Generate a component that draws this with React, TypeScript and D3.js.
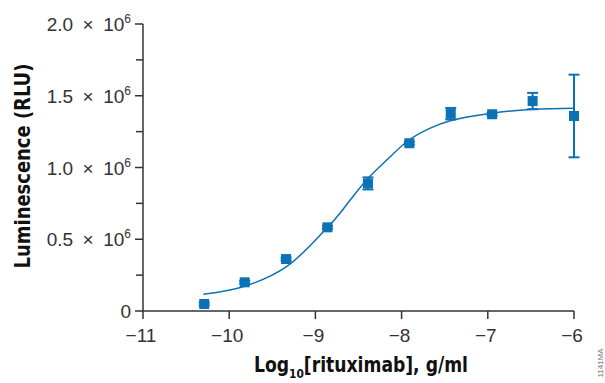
import React from "react";
import * as d3 from "d3";

const logConc = [-10.29, -9.82, -9.34, -8.86, -8.39, -7.91, -7.43, -6.95, -6.48, -6.0];
const meanRLU = [0.049e6, 0.2e6, 0.362e6, 0.583e6, 0.889e6, 1.169e6, 1.375e6, 1.371e6, 1.463e6, 1.359e6];
const errRLU = [0.01e6, 0.01e6, 0.01e6, 0.01e6, 0.042e6, 0.01e6, 0.04e6, 0.01e6, 0.057e6, 0.288e6];

const fitX = [-10.3, -9.82, -9.335, -8.871, -8.717, -8.601, -8.389, -8.176, -7.918, -7.674, -7.435, -6.959, -6.477, -6.0];
const fitY = [0.116e6, 0.172e6, 0.309e6, 0.576e6, 0.68e6, 0.77e6, 0.925e6, 1.05e6, 1.19e6, 1.273e6, 1.326e6, 1.378e6, 1.406e6, 1.413e6];

const xTicks = [-11, -10, -9, -8, -7, -6];
const yMajorTicks = [0, 0.5e6, 1.0e6, 1.5e6, 2.0e6];
const yMajorLabels = ["0", "0.5", "1.0", "1.5", "2.0"];
const yMinorTicks = [0.25e6, 0.75e6, 1.25e6, 1.75e6];

const W = 605;
const H = 383;
const BLUE = "#0b72b5";
const AXIS = "#333333";
const tickFont = "'Liberation Sans', Arial, sans-serif";
const titleFont = "'Liberation Sans Narrow', 'DejaVu Sans Condensed', 'Liberation Sans', sans-serif";

export default function App() {
  const x = d3.scaleLinear().domain([-11, -6]).range([143, 574]);
  const y = d3.scaleLinear().domain([0, 2e6]).range([311, 24]);

  const line = d3
    .line<number>()
    .x((_, i) => x(fitX[i]))
    .y((d) => y(d))
    .curve(d3.curveCatmullRom.alpha(0.5));

  const ms = 10;

  return (
    <svg
      width={W}
      height={H}
      style={{ position: "absolute", left: 0, top: 0, background: "#fff" }}
    >
      {/* axes */}
      <line x1={x(-11)} x2={x(-6)} y1={y(0)} y2={y(0)} stroke={AXIS} strokeWidth={1.5} />
      <line x1={x(-11)} x2={x(-11)} y1={y(0)} y2={y(2e6)} stroke={AXIS} strokeWidth={1.5} />
      {xTicks.map((t) => (
        <g key={"xt" + t}>
          <line x1={x(t)} x2={x(t)} y1={y(0)} y2={y(0) + 8} stroke={AXIS} strokeWidth={1.5} />
          <text
            x={x(t) - 2}
            y={342}
            textAnchor="middle"
            fontFamily={tickFont}
            fontSize={19}
            fill="#333"
          >
            {"\u2212" + Math.abs(t)}
          </text>
        </g>
      ))}
      {yMajorTicks.map((t, i) => (
        <g key={"yt" + t}>
          <line x1={x(-11) - 8} x2={x(-11)} y1={y(t)} y2={y(t)} stroke={AXIS} strokeWidth={1.5} />
          <text
            x={131}
            y={y(t) + 7}
            textAnchor="end"
            fontFamily={tickFont}
            fontSize={19}
            fill="#333"
          >
            {t === 0 ? (
              "0"
            ) : (
              <>
                {yMajorLabels[i] + "\u2002\u00d7\u200210"}
                <tspan fontSize={12} dy={-8}>
                  6
                </tspan>
              </>
            )}
          </text>
        </g>
      ))}
      {yMinorTicks.map((t) => (
        <line key={"ym" + t} x1={x(-11) - 7} x2={x(-11)} y1={y(t)} y2={y(t)} stroke={AXIS} strokeWidth={1.5} />
      ))}

      {/* fit curve */}
      <path d={line(fitY) || ""} fill="none" stroke={BLUE} strokeWidth={1.5} />

      {/* error bars */}
      {logConc.map((c, i) => (
        <g key={"eb" + i} stroke={BLUE} strokeWidth={2}>
          <line x1={x(c)} x2={x(c)} y1={y(meanRLU[i] - errRLU[i])} y2={y(meanRLU[i] + errRLU[i])} />
          <line x1={x(c) - 5.5} x2={x(c) + 5.5} y1={y(meanRLU[i] - errRLU[i])} y2={y(meanRLU[i] - errRLU[i])} />
          <line x1={x(c) - 5.5} x2={x(c) + 5.5} y1={y(meanRLU[i] + errRLU[i])} y2={y(meanRLU[i] + errRLU[i])} />
        </g>
      ))}

      {/* markers */}
      {logConc.map((c, i) => (
        <rect
          key={"m" + i}
          x={x(c) - ms / 2}
          y={y(meanRLU[i]) - ms / 2}
          width={ms}
          height={ms}
          fill={BLUE}
        />
      ))}

      {/* axis titles */}
      <g transform="translate(361,372) scale(0.91,1)">
        <text
          x={0}
          y={0}
          textAnchor="middle"
          fontFamily={titleFont}
          fontWeight="bold"
          fontSize={21}
          fill="#111"
        >
          Log
          <tspan fontSize={13} dy={6}>
            10
          </tspan>
          <tspan dy={-6}>[rituximab], g/ml</tspan>
        </text>
      </g>
      <g transform="translate(30,166) rotate(-90) scale(0.95,1)">
        <text
          x={0}
          y={0}
          textAnchor="middle"
          fontFamily={titleFont}
          fontWeight="bold"
          fontSize={21}
          fill="#111"
        >
          Luminescence (RLU)
        </text>
      </g>

      {/* figure code */}
      <text
        transform="translate(603,363) rotate(-90)"
        textAnchor="middle"
        fontFamily={tickFont}
        fontSize={8}
        fill="#777"
      >
        1141MA
      </text>
    </svg>
  );
}
